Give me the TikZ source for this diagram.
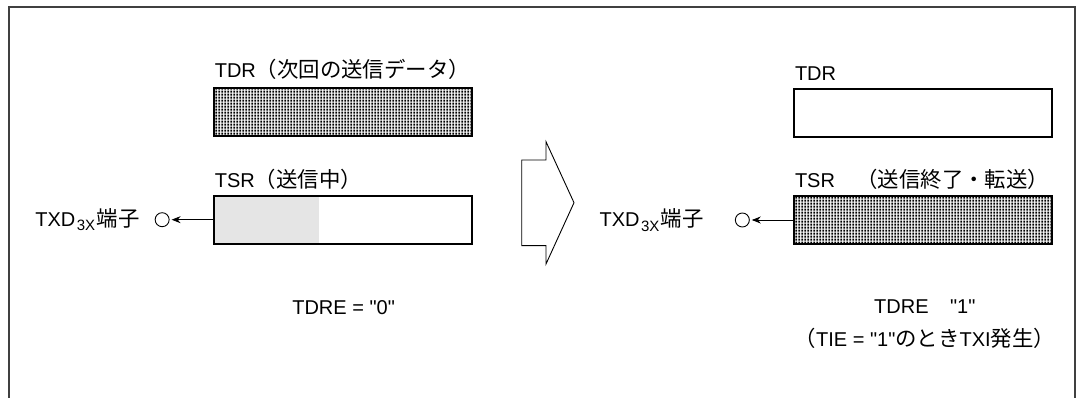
\documentclass[tikz,border=0pt]{standalone}
\usepackage{fontspec}
\setmainfont{Liberation Sans}
\newfontfamily\jp{Noto Sans CJK JP}[Scale=1.07]
\newfontfamily\qfont{Liberation Sans}
\usetikzlibrary{arrows.meta, positioning, patterns}

% dense dot raster for a full register
\pgfdeclarepatternformonly{finedots}{\pgfqpoint{0pt}{0pt}}{\pgfqpoint{2.8pt}{2.8pt}}{\pgfqpoint{2.8pt}{2.8pt}}{%
	\pgfpathrectangle{\pgfqpoint{0.4pt}{0.4pt}}{\pgfqpoint{2pt}{2pt}}\pgfusepath{fill}}

\newcommand{\dq}{{\qfont\symbol{34}}}
\newcommand{\lowidx}[1]{\hspace{1.5pt}\raisebox{-4.5pt}{\fontsize{15}{15}\selectfont #1}\hspace{1.5pt}}

\begin{document}
\begin{tikzpicture}[x=1pt, y=-1pt, font=\fontsize{20}{24}\selectfont]
	
	% --- STYLES ---
	\tikzstyle{regbox} = [rectangle, draw=black, line width=2pt, minimum width=258pt, minimum height=48pt, inner sep=0pt]
	\tikzstyle{fullreg} = [regbox, pattern=finedots]
	\tikzstyle{txt} = [inner sep=0pt, anchor=base west]
	\tikzstyle{term} = [circle, draw=black, line width=0.9pt, minimum size=14pt, inner sep=0pt]
	\tikzstyle{arrow} = [line width=0.9pt, -{Stealth[length=9pt, width=7pt]}, shorten >=2pt]
	\tikzstyle{busy} = [fill=black!10]
	
	% --- FRAME ---
	\useasboundingbox (0,0) rectangle (1080,398);
	\draw[line width=1.5pt, black!75] (9,398) -- (9,7) -- (1075,7) -- (1075,398);
	
	% --- LEFT: while sending ---
	\node (tdrL) [fullreg] at (342.6,112.5) {};
	\node (tdrLlab) [txt] at ([xshift=2pt, yshift=10pt]tdrL.north west) {TDR{\jp（次回の送信データ）}};
	
	\node (tsrL) [regbox, path picture={\fill[busy] (path picture bounding box.south west) rectangle ([xshift=105pt]path picture bounding box.north west);}] at (342.6,219.7) {};
	\node (tsrLlab) [txt] at ([xshift=2pt, yshift=7pt]tsrL.north west) {TSR{\jp（送信中）}};
	
	\node (termL) [term, left=43pt of tsrL.west] {};
	\node (txdL) [inner sep=0pt, left=15pt of termL] {TXD\lowidx{3X}{\jp 端子}};
	\draw [arrow] (tsrL.west) -- (termL);
	
	\node (tdreL) [inner sep=0pt, anchor=base] at ([xshift=1pt, yshift=-69.4pt]tsrL.south) {TDRE = \dq0\dq};
	
	% --- TRANSITION ---
	\draw[line width=0.9pt] (521.7,160) -- (546,160) -- (546,141.7) -- (574,202.7) -- (546,264) -- (546,245.7) -- (521.7,245.7) -- cycle;
	
	% --- RIGHT: after transfer ---
	\node (tdrR) [regbox] at (922.8,112.7) {};
	\node (tdrRlab) [txt] at ([xshift=2pt, yshift=7pt]tdrR.north west) {TDR};
	
	\node (tsrR) [fullreg] at (922.8,220) {};
	\node (tsrRlab) [txt] at ([xshift=2pt, yshift=7pt]tsrR.north west) {TSR{\jp　（送信終了・転送）}};
	
	\node (termR) [term, left=43pt of tsrR.west] {};
	\node (txdR) [inner sep=0pt, left=31pt of termR] {TXD\lowidx{3X}{\jp 端子}};
	\draw [arrow] (tsrR.west) -- (termR);
	
	\node (tdreR) [inner sep=0pt, anchor=base] at ([xshift=2pt, yshift=-68.7pt]tsrR.south) {TDRE{\jp 　}\dq1\dq};
	\node (tieR) [inner sep=0pt, anchor=base] at ([yshift=-32.3pt]tdreR.base) {{\jp（}TIE = \dq1\dq{\jp のとき}TXI{\jp 発生）}};
	
\end{tikzpicture}
\end{document}
